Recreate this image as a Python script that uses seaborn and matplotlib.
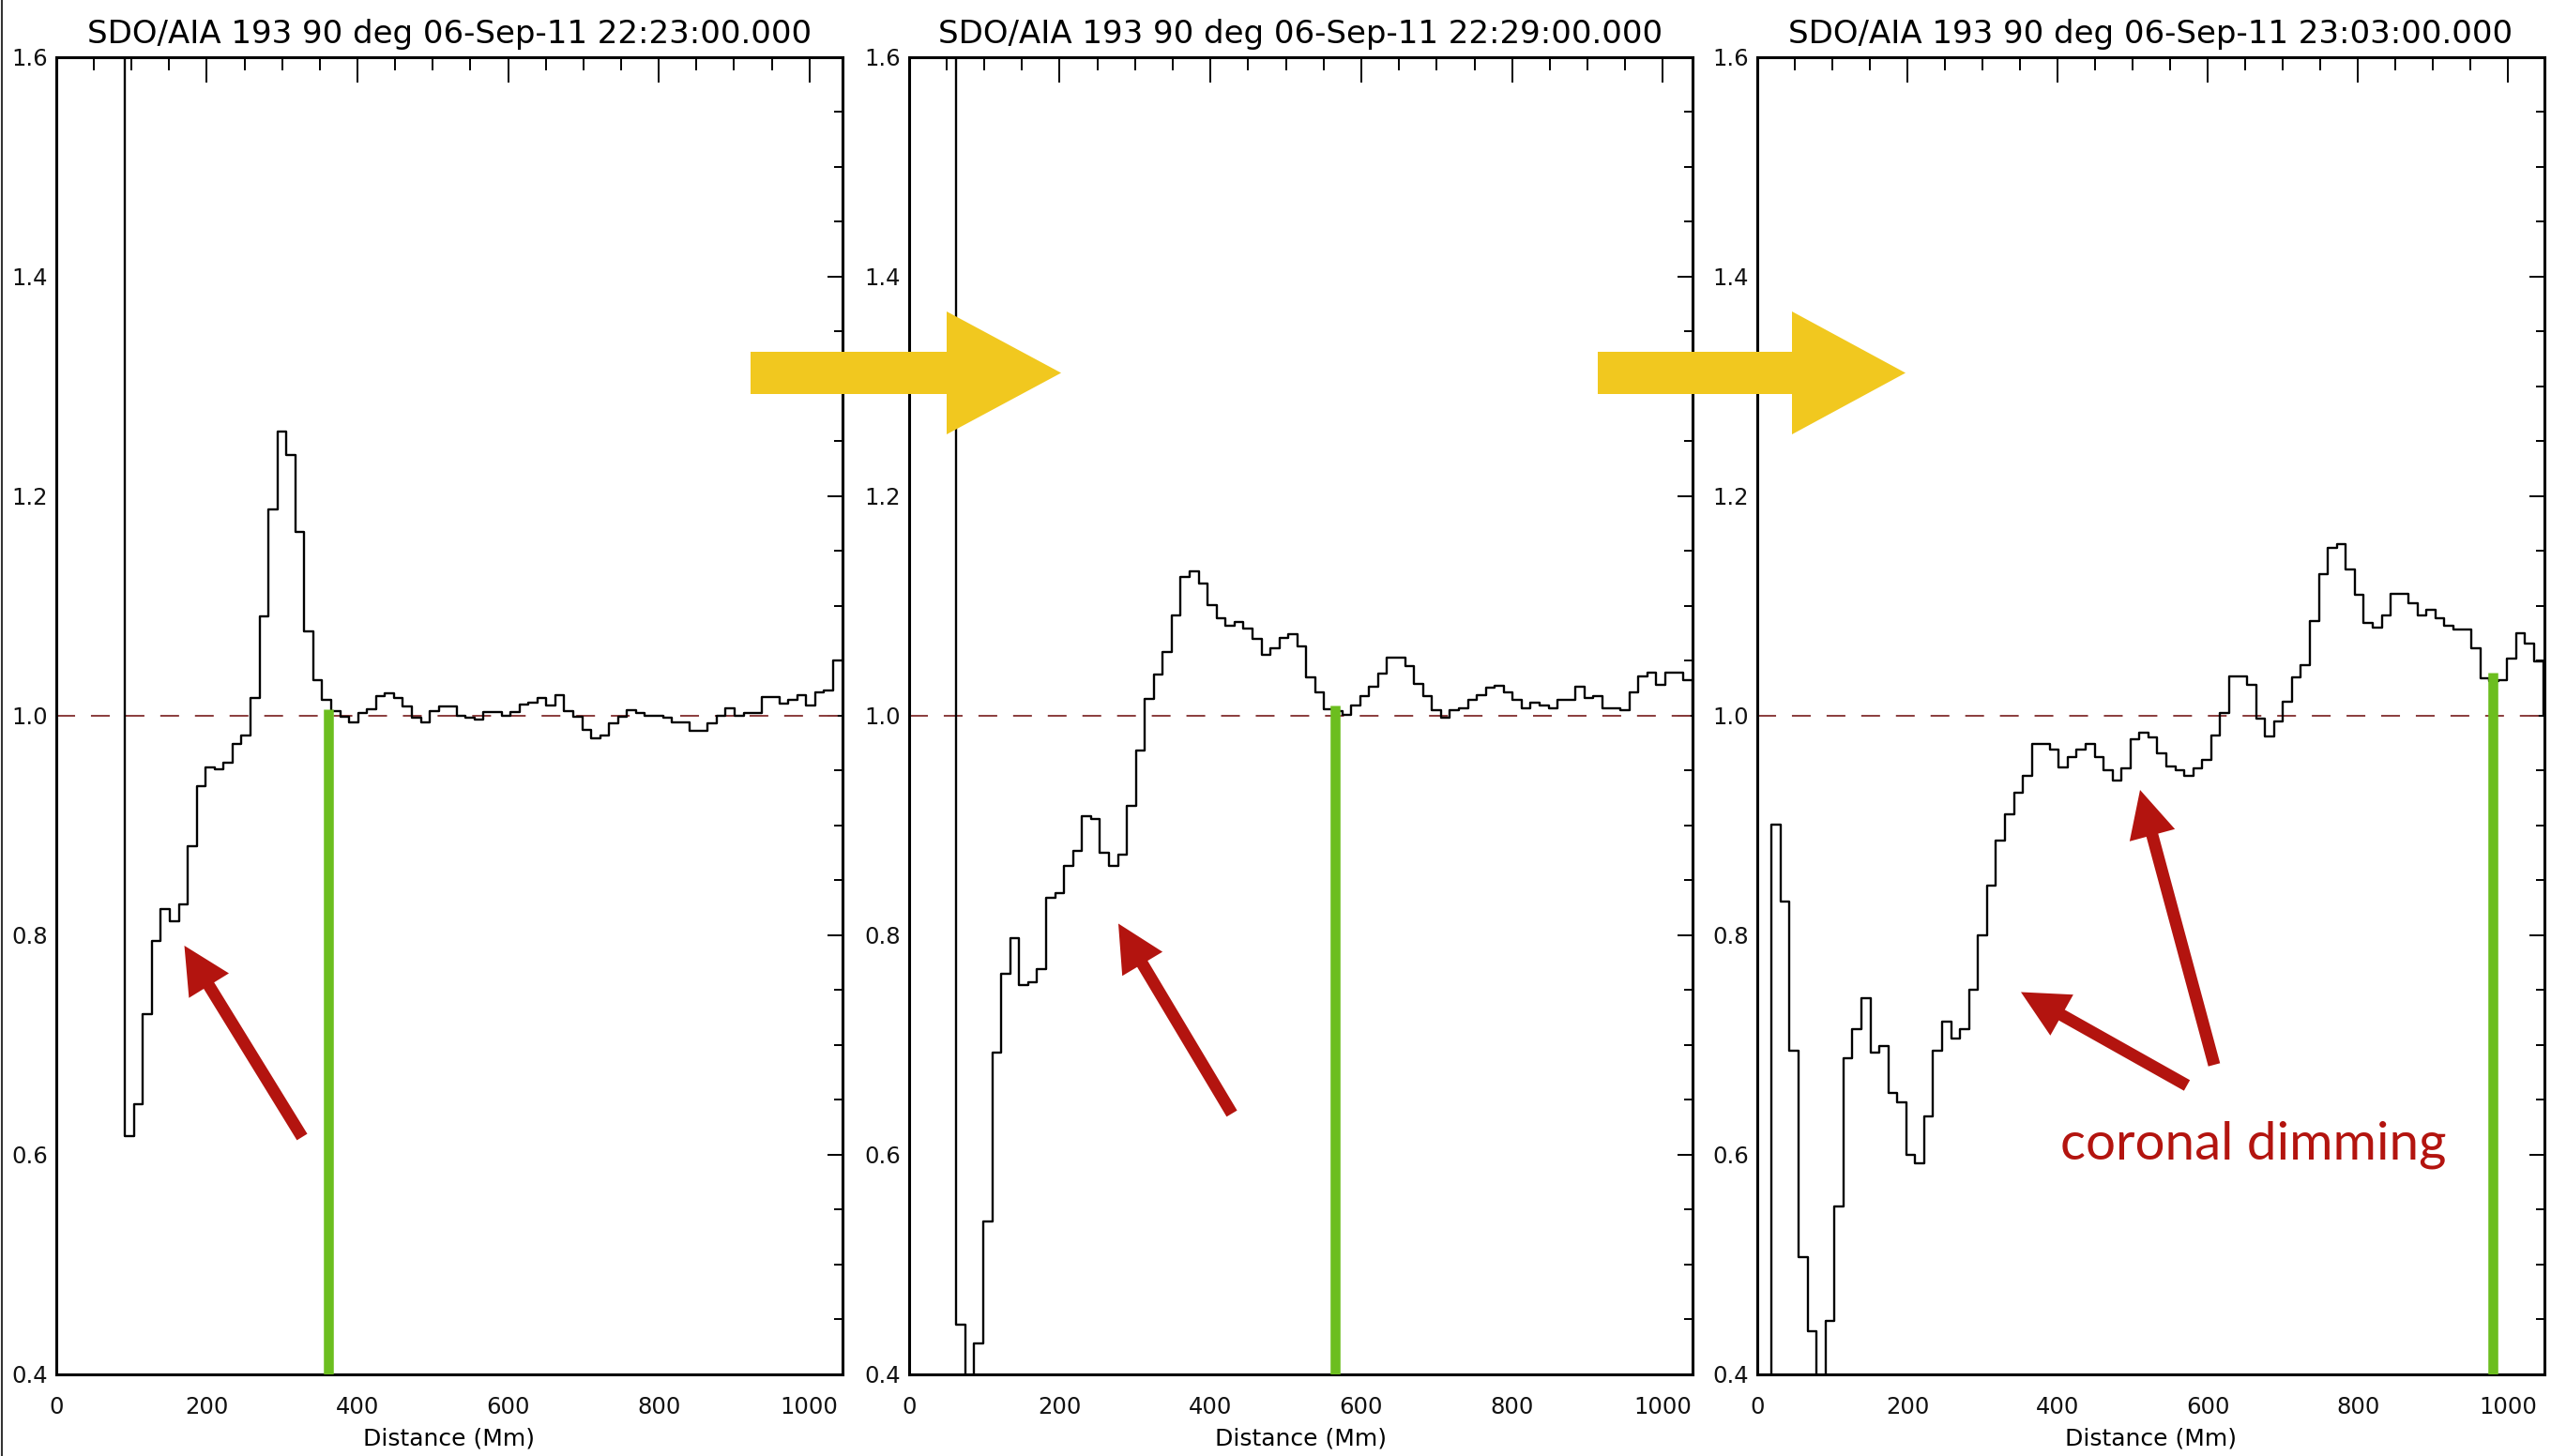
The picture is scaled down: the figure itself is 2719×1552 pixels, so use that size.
import numpy as np
import pandas as pd
import matplotlib
matplotlib.use("Agg")
import matplotlib.pyplot as plt
import seaborn as sns
from matplotlib.patches import Polygon, FancyArrow
from matplotlib.ticker import MultipleLocator, FormatStrFormatter

sns.set_theme(style="white")
plt.rcParams['font.family'] = ['DejaVu Sans']

# ---------------- data ----------------
titles = [
    "SDO/AIA 193 90 deg 06-Sep-11 22:23:00.000",
    "SDO/AIA 193 90 deg 06-Sep-11 22:29:00.000",
    "SDO/AIA 193 90 deg 06-Sep-11 23:03:00.000",
]
x_label = "Distance (Mm)"

# step profiles: first bin edge (Mm), bin width (Mm), ratio values per bin
p1_start, p1_width = 79.6, 11.9
p1_vals = [1.8, 0.617, 0.646, 0.728, 0.795, 0.824, 0.813, 0.828, 0.881, 0.936,
           0.953, 0.951, 0.957, 0.974, 0.982, 1.016, 1.090, 1.188, 1.259, 1.237,
           1.167, 1.077, 1.032, 1.014, 1.004, 0.999, 0.994, 1.002, 1.006, 1.018,
           1.020, 1.016, 1.008, 0.998, 0.994, 1.004, 1.008, 1.008, 1.000, 0.998,
           0.996, 1.003, 1.003, 1.000, 1.003, 1.010, 1.012, 1.016, 1.009, 1.019,
           1.004, 0.999, 0.987, 0.979, 0.982, 0.993, 0.999, 1.005, 1.002, 1.000,
           1.000, 0.998, 0.994, 0.994, 0.986, 0.986, 0.993, 1.000, 1.007, 1.000,
           1.002, 1.002, 1.017, 1.017, 1.011, 1.014, 1.019, 1.009, 1.021, 1.023,
           1.050]

p2_start, p2_width = 51.1, 11.9
p2_vals = [1.8, 0.445, 0.30, 0.428, 0.539, 0.693, 0.765, 0.797, 0.755, 0.757,
           0.769, 0.834, 0.838, 0.863, 0.877, 0.908, 0.906, 0.875, 0.863, 0.873,
           0.918, 0.968, 1.015, 1.037, 1.058, 1.091, 1.126, 1.131, 1.120, 1.101,
           1.089, 1.082, 1.085, 1.079, 1.070, 1.055, 1.061, 1.071, 1.074, 1.063,
           1.035, 1.021, 1.006, 1.004, 1.001, 1.009, 1.018, 1.026, 1.038, 1.053,
           1.053, 1.045, 1.029, 1.018, 1.005, 0.998, 1.005, 1.007, 1.014, 1.019,
           1.025, 1.027, 1.021, 1.014, 1.007, 1.012, 1.009, 1.007, 1.014, 1.014,
           1.026, 1.016, 1.018, 1.007, 1.007, 1.005, 1.021, 1.036, 1.039, 1.028,
           1.039, 1.039, 1.032, 1.000]

p3_start, p3_width = 7.25, 11.95
p3_vals = [0.30, 0.901, 0.831, 0.695, 0.507, 0.439, 0.35, 0.449, 0.553, 0.688,
           0.714, 0.743, 0.693, 0.699, 0.656, 0.648, 0.600, 0.592, 0.635, 0.695,
           0.721, 0.706, 0.714, 0.750, 0.800, 0.845, 0.886, 0.910, 0.930, 0.945,
           0.974, 0.974, 0.969, 0.953, 0.962, 0.969, 0.974, 0.962, 0.950, 0.941,
           0.952, 0.978, 0.984, 0.980, 0.966, 0.954, 0.950, 0.945, 0.952, 0.960,
           0.982, 1.002, 1.036, 1.036, 1.028, 0.997, 0.981, 0.995, 1.013, 1.035,
           1.046, 1.086, 1.129, 1.153, 1.156, 1.133, 1.110, 1.084, 1.080, 1.091,
           1.111, 1.111, 1.102, 1.091, 1.096, 1.089, 1.082, 1.078, 1.078, 1.061,
           1.034, 1.031, 1.032, 1.052, 1.075, 1.066, 1.049, 1.000]

starts = [p1_start, p2_start, p3_start]
widths = [p1_width, p2_width, p3_width]
series = [p1_vals, p2_vals, p3_vals]

# wave-front markers (green) : position (Mm) and top value
front_x = [361, 565, 980]
front_top = [1.006, 1.009, 1.039]

x_max = [1044, 1039, 1048]
y_range = (0.4, 1.6)
reference_level = 1.0

annotation_text = "coronal dimming"

# ---------------- styling ----------------
W, H = 2719, 1552
GREEN = "#6cbe1f"
RED = "#b3140f"
YELLOW = "#f1c81f"
DASH = "#8a3c3c"

fig = plt.figure(figsize=(W / 100, H / 100), dpi=100)
fig.patch.set_facecolor("white")

lefts = [59.8, 968.7, 1873.0]
rights = [898.0, 1803.8, 2711.5]
top_px, bot_px = 60.5, 1465.0

for i in range(3):
    ax = fig.add_axes([lefts[i] / W, 1 - bot_px / H,
                       (rights[i] - lefts[i]) / W, (bot_px - top_px) / H])
    ax.set_facecolor("white")
    vals = np.asarray(series[i], dtype=float)
    edges = starts[i] + widths[i] * np.arange(len(vals) + 1)
    df = pd.DataFrame({"x": edges, "y": np.append(vals, vals[-1])})
    ax.axhline(reference_level, color=DASH, lw=1.4, dashes=(10.3, 8.7), zorder=1)
    sns.lineplot(data=df, x="x", y="y", ax=ax, drawstyle="steps-post",
                 color="black", lw=1.7, estimator=None, sort=False, zorder=2)
    ax.vlines(front_x[i], y_range[0], front_top[i], color=GREEN, lw=7.6, zorder=3)

    ax.set_xlim(0, x_max[i])
    ax.set_ylim(*y_range)
    ax.xaxis.set_major_locator(MultipleLocator(200))
    ax.xaxis.set_minor_locator(MultipleLocator(50))
    ax.yaxis.set_major_locator(MultipleLocator(0.2))
    ax.yaxis.set_minor_locator(MultipleLocator(0.05))
    ax.yaxis.set_major_formatter(FormatStrFormatter("%.1f"))
    ax.tick_params(which="both", direction="in", top=True, right=True,
                   colors="black", width=1.4)
    ax.tick_params(axis="x", which="major", length=19.4, pad=16.5, labelsize=17.5)
    ax.tick_params(axis="x", which="minor", length=10)
    ax.tick_params(axis="y", which="major", length=11.5, pad=6.5, labelsize=17.5)
    ax.tick_params(axis="y", which="minor", length=6.5)
    for s in ax.spines.values():
        s.set_color("black")
        s.set_linewidth(2.2)
    ax.set_xlabel(x_label, fontsize=18, labelpad=7, color="black")
    ax.set_ylabel("")
    ax.set_title(titles[i], fontsize=24.5, pad=10.4, color="black")
    for lab in ax.get_xticklabels() + ax.get_yticklabels():
        lab.set_color("#111111")

# ---------------- overlay annotations (figure pixel space) ----------------
ov = fig.add_axes([0, 0, 1, 1], zorder=20)
ov.set_xlim(0, W)
ov.set_ylim(H, 0)
ov.axis("off")
ov.patch.set_alpha(0)

# left border line of the picture
ov.plot([1.5, 1.5], [0, H], color="#333333", lw=1.5)

# yellow transition arrows
for x0, xb, xt in [(800, 1009, 1131), (1703, 1910, 2031)]:
    ov.add_patch(Polygon([(x0, 375), (xb, 375), (xb, 332), (xt, 397.5),
                          (xb, 463), (xb, 420), (x0, 420)],
                         closed=True, facecolor=YELLOW, edgecolor="none"))

# red arrows
for (tx, ty), (hx, hy) in [((322, 1212), (196.5, 1008)),
                           ((1313, 1187), (1192, 984.5)),
                           ((2331, 1157), (2154, 1057.5)),
                           ((2360, 1135), (2281, 842))]:
    ov.add_patch(FancyArrow(tx, ty, hx - tx, hy - ty, width=13, head_width=50,
                            head_length=50, length_includes_head=True,
                            facecolor=RED, edgecolor="none"))

ov.text(2196, 1235, annotation_text, fontsize=40.7, color=RED,
        family=["Lato", "DejaVu Sans"], va="baseline", ha="left")

fig.savefig("out.png", dpi=100, facecolor="white")
